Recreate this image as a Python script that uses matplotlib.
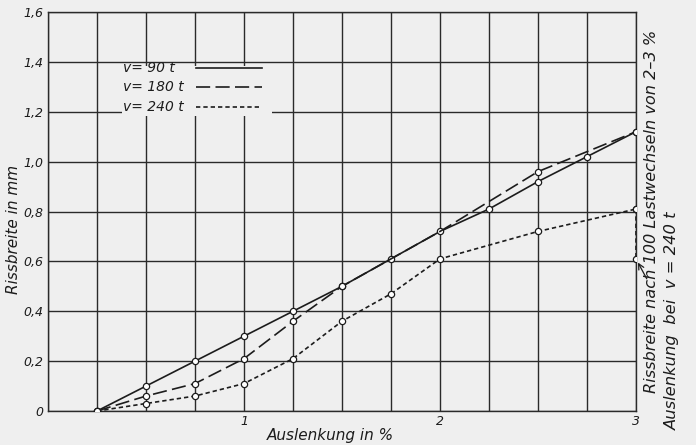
import numpy as np
import matplotlib.pyplot as plt
from matplotlib.patches import Rectangle

# -------------------------------
# DATA
# -------------------------------
x_90 = [0.25, 0.5, 0.75, 1.0, 1.25, 1.5, 1.75, 2.0, 2.25, 2.5, 2.75, 3.0]
y_90 = [0.0, 0.10, 0.20, 0.30, 0.40, 0.50, 0.61, 0.72, 0.81, 0.92, 1.02, 1.12]

x_180 = [0.25, 0.5, 0.75, 1.0, 1.25, 1.5, 2.0, 2.5, 3.0]
y_180 = [0.0, 0.06, 0.11, 0.21, 0.36, 0.50, 0.72, 0.96, 1.12]
mark_180 = [True, True, True, True, True, True, False, True, True]

x_240 = [0.25, 0.5, 0.75, 1.0, 1.25, 1.5, 1.75, 2.0, 2.5, 3.0]
y_240 = [0.0, 0.03, 0.06, 0.11, 0.21, 0.36, 0.47, 0.61, 0.72, 0.81]

# crack width after 100 load cycles at v = 240 t
drop_x = [3.0, 3.0]
drop_y = [0.81, 0.61]

legend_labels = ["v= 90 t", "v= 180 t", "v= 240 t"]
x_tick_labels = {1.0: "1", 2.0: "2", 3.0: "3"}
y_ticks = [0, 0.2, 0.4, 0.6, 0.8, 1.0, 1.2, 1.4, 1.6]

# -------------------------------
# STYLE
# -------------------------------
bg = "#efefef"
ink = "#1c1c1c"
plt.rcParams["font.family"] = ["DejaVu Sans"]
plt.rcParams["font.style"] = "italic"

style_90 = dict(color=ink, lw=1.2, linestyle="-")
style_180 = dict(color=ink, lw=1.2, linestyle=(0, (8.5, 3.2)))
style_240 = dict(color=ink, lw=1.2, linestyle=(0, (2.6, 1.8)))
mk = dict(marker="o", markersize=4.5, markerfacecolor="white",
          markeredgecolor=ink, markeredgewidth=0.9)

fig = plt.figure(figsize=(6.96, 4.45), dpi=100, facecolor=bg)
ax = fig.add_axes([48 / 696, 34 / 445, 588 / 696, 399 / 445], facecolor=bg)

ax.set_xlim(0, 3)
ax.set_ylim(0, 1.6)

# grid
xt = np.arange(0, 3.01, 0.25)
ax.set_xticks(xt)
ax.set_xticklabels([x_tick_labels.get(round(v, 2), "") for v in xt])
ax.set_yticks(y_ticks)
ax.set_yticklabels(["0" if v == 0 else f"{v:.1f}".replace(".", ",") for v in y_ticks])
ax.tick_params(length=0, labelsize=9, colors=ink)
ax.tick_params(axis="x", pad=3)
ax.tick_params(axis="y", pad=3)
ax.grid(True, color="#2a2a2a", lw=1.0)
ax.set_axisbelow(True)
for s in ax.spines.values():
    s.set_color("#2a2a2a")
    s.set_linewidth(1.0)

# curves
ax.plot(x_90, y_90, **style_90, **mk, zorder=3)
ax.plot(x_180, y_180, **style_180, **mk, markevery=mark_180, zorder=3)
ax.plot(x_240, y_240, **style_240, **mk, zorder=3)
ax.plot(drop_x, drop_y, **style_240, **mk, zorder=3)

# legend: text on the left, line sample on the right, blanking the grid behind
ax.add_patch(Rectangle((0.126, 0.739), 0.255, 0.126, transform=ax.transAxes,
                       facecolor=bg, edgecolor="none", zorder=1.5))
leg_y = [0.8596, 0.812, 0.762]
for lab, st, yy in zip(legend_labels, [style_90, style_180, style_240], leg_y):
    ax.text(0.1276, yy, lab, transform=ax.transAxes, ha="left", va="center",
            fontsize=10, color=ink, zorder=4)
    ax.plot([0.2517, 0.364], [yy, yy], transform=ax.transAxes, zorder=4, **st)

ax.set_xlabel("Auslenkung in %", fontsize=11, color=ink)
ax.xaxis.set_label_coords(0.48, -0.042)
ax.set_ylabel("Rissbreite in mm", fontsize=11, color=ink)
ax.yaxis.set_label_coords(-0.046, 0.455)

# side note with arrow to the dropped point
ax.annotate("", xy=(3.0, 0.61), xytext=(3.055, 0.53),
            arrowprops=dict(arrowstyle="->", color=ink, lw=0.9, shrinkA=0, shrinkB=3),
            annotation_clip=False)
fig.text(651 / 696, 1 - 393 / 445, "Rissbreite nach 100 Lastwechseln von 2–3 %",
         rotation=90, ha="center", va="bottom", fontsize=11.6, color=ink)
fig.text(672 / 696, 1 - 430 / 445, "Auslenkung  bei  v = 240 t",
         rotation=90, ha="center", va="bottom", fontsize=11.8, color=ink)

fig.savefig("out.png", dpi=100, facecolor=bg)
